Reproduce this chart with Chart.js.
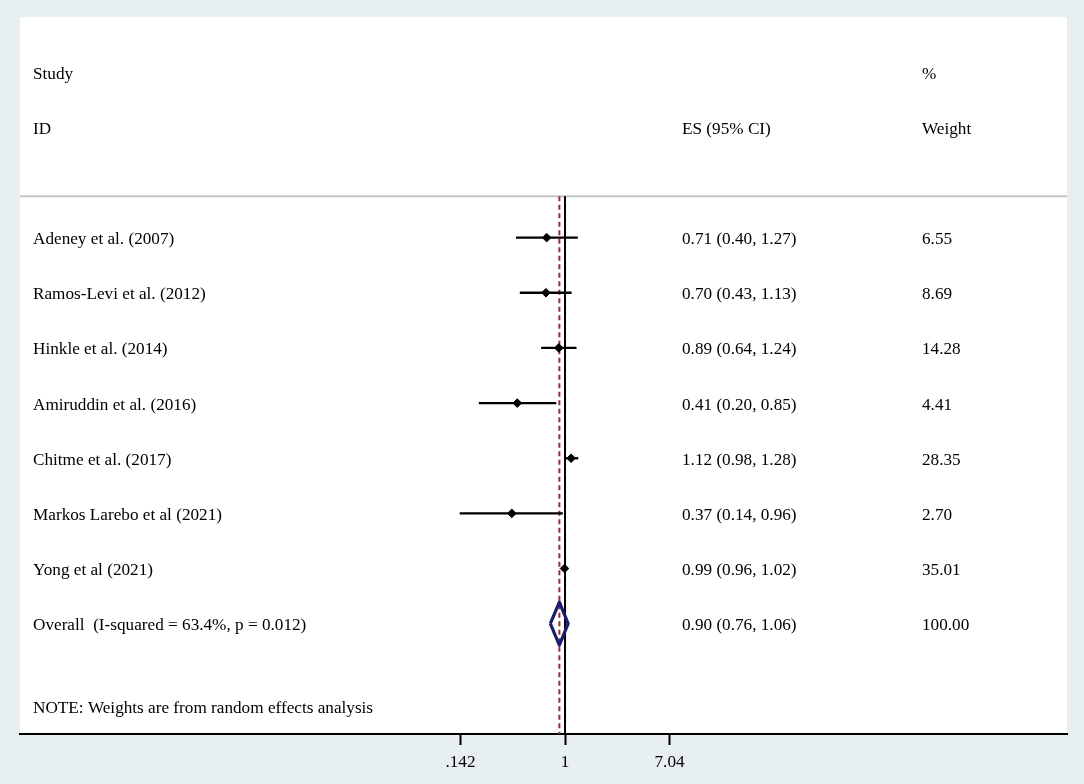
<!DOCTYPE html>
<html lang="en">
<head>
<meta charset="UTF-8" />
<title>Forest plot</title>
<script src="https://cdn.jsdelivr.net/npm/chart.js"></script>
<style>
  body { margin: 0; background: #e8eff2; overflow: hidden; }
  canvas { display: block; }
</style>
</head>
<body>
<canvas id="forest" width="1084" height="784"></canvas>
<script>
const studies = [
    'Adeney et al. (2007)',
    'Ramos-Levi et al. (2012)',
    'Hinkle et al. (2014)',
    'Amiruddin et al. (2016)',
    'Chitme et al. (2017)',
    'Markos Larebo et al (2021)',
    'Yong et al (2021)'
];
const es = [0.71, 0.70, 0.89, 0.41, 1.12, 0.37, 0.99];
const lower = [0.40, 0.43, 0.64, 0.20, 0.98, 0.14, 0.96];
const upper = [1.27, 1.13, 1.24, 0.85, 1.28, 0.96, 1.02];
const weights = ['6.55', '8.69', '14.28', '4.41', '28.35', '2.70', '35.01'];

const overallLabel = 'Overall  (I-squared = 63.4%, p = 0.012)';
const overall = [0.90, 0.76, 1.06]; // es, lower, upper
const overallWeight = '100.00';

const xTicks = [0.142, 1, 7.04];
const xTickLabels = ['.142', '1', '7.04'];
const note = 'NOTE: Weights are from random effects analysis';

const FAMILY = '"Liberation Serif", "Times New Roman", serif';
const FONT = '17.2px ' + FAMILY;
const COL_STUDY = 33, COL_ES = 682, COL_W = 922;
const TEXT_DY = 2;
const overallRow = studies.length;
const sepRow = -0.75;
const diamondHalf = 0.39;

const fmt = v => v.toFixed(2);

// confidence interval segments, one dataset each
const ciSets = studies.map((s, i) => ({
    data: [{ x: lower[i], y: i }, { x: upper[i], y: i }],
    showLine: true,
    borderColor: '#000',
    borderWidth: 2.4,
    pointRadius: 0,
    order: 2
}));

const datasets = [
    {
        data: es.map((v, i) => ({ x: v, y: i })),
        pointStyle: 'rectRot',
        pointRadius: 4.3,
        backgroundColor: '#000',
        borderColor: '#000',
        borderWidth: 1,
        order: 0
    },
    {
        // overall diamond
        data: [
            { x: overall[1], y: overallRow },
            { x: overall[0], y: overallRow - diamondHalf },
            { x: overall[2], y: overallRow },
            { x: overall[0], y: overallRow + diamondHalf },
            { x: overall[1], y: overallRow }
        ],
        showLine: true,
        borderColor: '#1a1c6e',
        borderWidth: 3.2,
        borderJoinStyle: 'round',
        pointRadius: 0,
        order: 0
    },
    ...ciSets,
    {
        // line of no effect
        data: [{ x: 1, y: sepRow }, { x: 1, y: 9 }],
        showLine: true,
        borderColor: '#000',
        borderWidth: 2,
        pointRadius: 0,
        order: 1
    },
    {
        // overall effect, dashed
        data: [{ x: overall[0], y: sepRow }, { x: overall[0], y: 9 }],
        showLine: true,
        borderColor: '#9b2a2f',
        borderWidth: 2,
        borderDash: [5, 3.5],
        pointRadius: 0,
        order: 3
    }
];

const panel = {
    id: 'panel',
    beforeDraw(chart) {
        const { ctx, chartArea: a } = chart;
        ctx.save();
        ctx.fillStyle = '#e8eff2';
        ctx.fillRect(0, 0, chart.width, chart.height);
        ctx.fillStyle = '#fff';
        ctx.fillRect(a.left, a.top, a.right - a.left, a.bottom - a.top);
        const ySep = chart.scales.y.getPixelForValue(sepRow);
        ctx.strokeStyle = '#c4c4c4';
        ctx.lineWidth = 2;
        ctx.beginPath();
        ctx.moveTo(a.left, ySep);
        ctx.lineTo(a.right, ySep);
        ctx.stroke();
        ctx.restore();
    },
    afterDraw(chart) {
        const { ctx } = chart;
        const y = chart.scales.y;
        const put = (t, x, row) => ctx.fillText(t, x, y.getPixelForValue(row) + TEXT_DY);
        ctx.save();
        ctx.font = FONT;
        ctx.fillStyle = '#000';
        ctx.textAlign = 'left';
        ctx.textBaseline = 'middle';
        put('Study', COL_STUDY, -3);
        put('ID', COL_STUDY, -2);
        put('ES (95% CI)', COL_ES, -2);
        put('%', COL_W, -3);
        put('Weight', COL_W, -2);
        studies.forEach((s, i) => {
            put(s, COL_STUDY, i);
            put(`${fmt(es[i])} (${fmt(lower[i])}, ${fmt(upper[i])})`, COL_ES, i);
            put(weights[i], COL_W, i);
        });
        put(overallLabel, COL_STUDY, overallRow);
        put(`${fmt(overall[0])} (${fmt(overall[1])}, ${fmt(overall[2])})`, COL_ES, overallRow);
        put(overallWeight, COL_W, overallRow);
        put(note, COL_STUDY, overallRow + 1.5);
        ctx.restore();
    }
};

new Chart(document.getElementById('forest'), {
    type: 'scatter',
    data: { datasets },
    plugins: [panel],
    options: {
        responsive: false,
        animation: false,
        layout: { padding: { left: 20, right: 17, top: 17, bottom: 0 } },
        plugins: { legend: { display: false }, tooltip: { enabled: false } },
        scales: {
            x: {
                type: 'logarithmic',
                min: 3.8e-5,
                max: 11780,
                bounds: 'data',
                afterBuildTicks: scale => { scale.ticks = xTicks.map(v => ({ value: v })); },
                afterFit: scale => { scale.height = 50; },
                grid: { drawOnChartArea: false, drawTicks: true, tickLength: 11, tickWidth: 2, tickColor: '#000' },
                border: { display: true, color: '#000', width: 2 },
                ticks: {
                    autoSkip: false,
                    maxRotation: 0,
                    padding: 7,
                    color: '#000',
                    font: { family: FAMILY, size: 17.2 },
                    callback: (v, i) => xTickLabels[i]
                }
            },
            y: {
                type: 'linear',
                display: false,
                reverse: true,
                min: -4,
                max: 9
            }
        }
    }
});
</script>
</body>
</html>
